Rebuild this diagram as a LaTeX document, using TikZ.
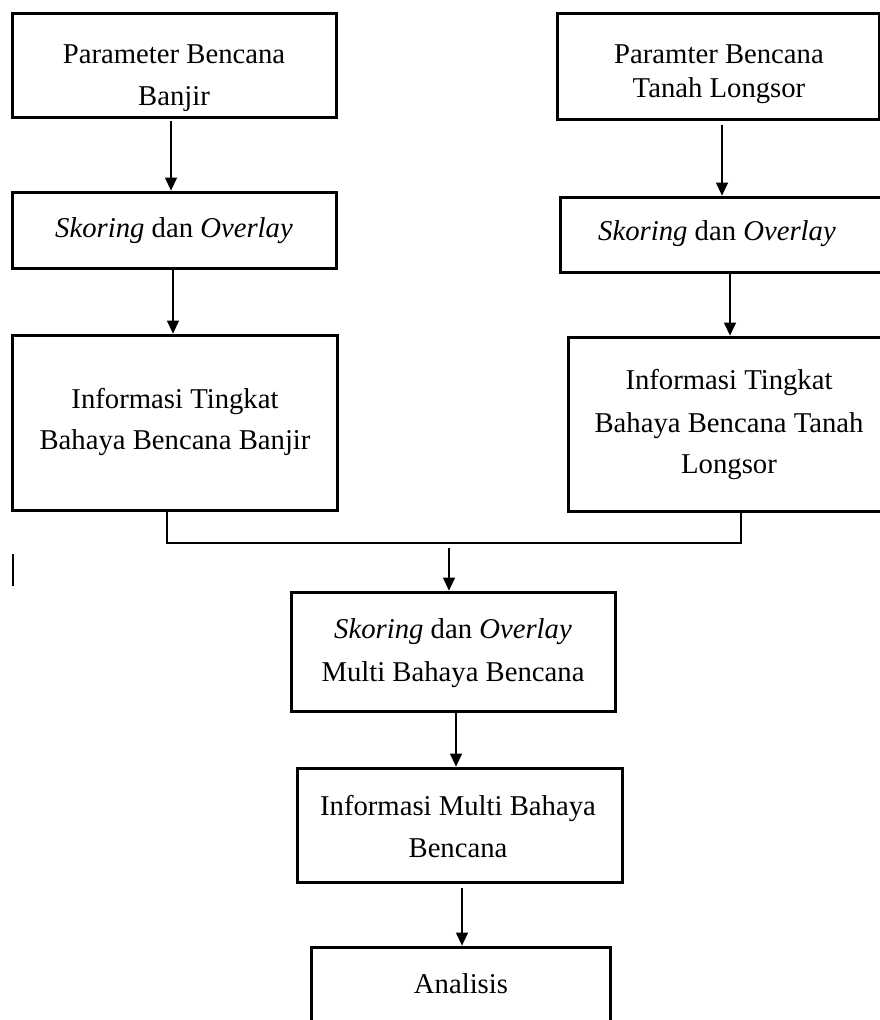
\documentclass[tikz,border=0pt]{standalone}
\usepackage{fontspec}
\setmainfont{Liberation Serif}
\usetikzlibrary{arrows.meta}
\begin{document}
\begin{tikzpicture}[x=1pt,y=-1pt,
  box/.style={draw, line width=3pt, inner sep=0pt, outer sep=0pt},
  txt/.style={font=\fontsize{28.7}{34}\selectfont, inner sep=0pt, anchor=base},
  arr/.style={-{Triangle[length=13pt,width=12pt]}, line width=1.3pt, shorten >=1.4pt},
  conn/.style={line width=1.3pt}]
\useasboundingbox (0,0) rectangle (880,1020);
% boxes
\node[box, minimum width=324pt, minimum height=104pt] (b1) at (174,65) {};
\node[box, minimum width=322pt, minimum height=106pt] (b2) at (718,66) {};
\node[box, minimum width=324pt, minimum height=76pt] (s1) at (174,230) {};
\node[box, minimum width=326pt, minimum height=75pt] (s2) at (723,234.5) {};
\node[box, minimum width=325pt, minimum height=175pt] (i1) at (174.5,422.5) {};
\node[box, minimum width=322pt, minimum height=174pt] (i2) at (729,424) {};
\node[box, minimum width=324pt, minimum height=119pt] (m) at (453,651.5) {};
\node[box, minimum width=325pt, minimum height=114pt] (im) at (459.5,825) {};
\node[box, minimum width=299pt, minimum height=93pt] (a) at (460.5,993.5) {};
% texts
\node[txt] (tb1a) at (174,63) {Parameter Bencana};
\node[txt] (tb1b) at (174,105) {Banjir};
\node[txt] (tb2a) at (719,63) {Paramter Bencana};
\node[txt] (tb2b) at (719,97) {Tanah Longsor};
\node[txt] (ts1) at (174,237) {\textit{Skoring} dan \textit{Overlay}};
\node[txt] (ts2) at (717,240) {\textit{Skoring} dan \textit{Overlay}};
\node[txt] (ti1a) at (175,408) {Informasi Tingkat};
\node[txt] (ti1b) at (175,449) {Bahaya Bencana Banjir};
\node[txt] (ti2a) at (729,389) {Informasi Tingkat};
\node[txt] (ti2b) at (729,432) {Bahaya Bencana Tanah};
\node[txt] (ti2c) at (729,473) {Longsor};
\node[txt] (tma) at (453,638) {\textit{Skoring} dan \textit{Overlay}};
\node[txt] (tmb) at (453,681) {Multi Bahaya Bencana};
\node[txt] (tima) at (458,815) {Informasi Multi Bahaya};
\node[txt] (timb) at (458,857) {Bencana};
\node[txt] (ta) at (461,993) {Analisis};
% connectors
\draw[arr] ([xshift=-3pt,yshift=-4pt]b1.south) -- ([xshift=-3pt]s1.north);
\draw[arr] ([xshift=-1pt]s1.south) -- ([xshift=-1.5pt]i1.north);
\draw[arr] ([xshift=4pt,yshift=-6pt]b2.south) -- ([xshift=-1pt]s2.north);
\draw[arr] ([xshift=7pt]s2.south) -- ([xshift=1pt]i2.north);
\coordinate (j) at (449,543);
\draw[conn] ([xshift=-7.5pt]i1.south) |- (j) -| ([xshift=12pt]i2.south);
\draw[arr] ([yshift=-5pt]j) -- ([xshift=-4pt]m.north);
\draw[arr] ([xshift=3pt,yshift=-2pt]m.south) -- ([xshift=-3.5pt]im.north);
\draw[arr] ([xshift=2.5pt,yshift=-6pt]im.south) -- ([xshift=1.5pt]a.north);
% stray mark
\coordinate (k1) at (13,554);
\coordinate (k2) at (13,586);
\draw[conn] (k1) -- (k2);
\end{tikzpicture}
\end{document}
